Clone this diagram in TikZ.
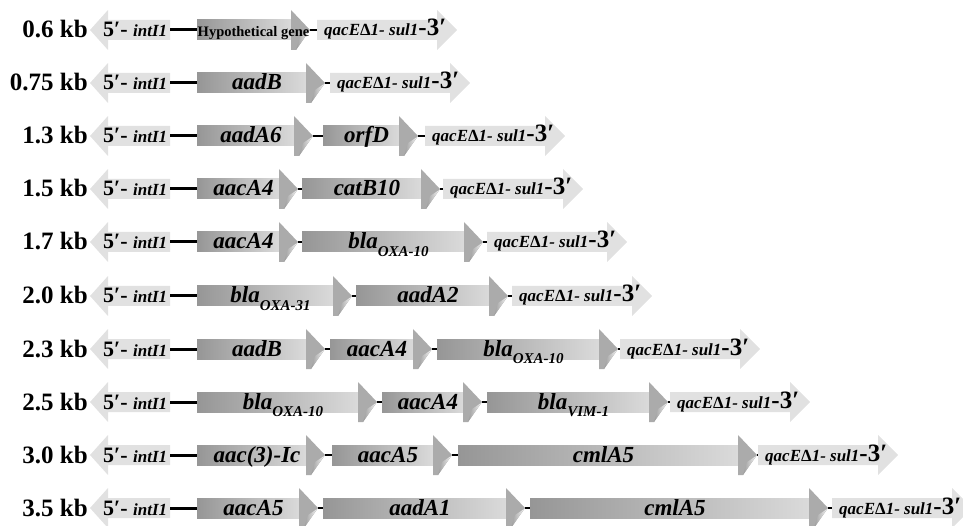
\documentclass[tikz,border=0pt]{standalone}
\usepackage{fontspec}
\setmainfont{Liberation Serif}
\definecolor{gA}{HTML}{969696}
\definecolor{gB}{HTML}{DADADA}
\definecolor{gH}{HTML}{ABABAB}
\definecolor{gC}{HTML}{9C9C9C}
\definecolor{gD}{HTML}{F2F2F2}
\definecolor{flankc}{HTML}{E1E1E1}
\def\bh{10}
\def\hh{20}
\def\hl{19}
\tikzset{
  flank/.style={fill=flankc},
  rowlabel/.style={font=\fontsize{25}{28}\selectfont\bfseries, anchor=base east, inner sep=0},
  genelabel/.style={font=\fontsize{23}{26}\selectfont\bfseries\itshape, anchor=base, inner sep=0},
  smalllabel/.style={font=\fontsize{14.5}{17}\selectfont\bfseries, anchor=base, inner sep=0, xshift=4pt},
  flanklabel/.style={font=\bfseries, anchor=base west, inner sep=0},
  mainline/.style={line width=3pt},
  linker/.style={line width=2.5pt},
}
\newcommand\leftflank[2]{%
  \path[flank] (90,#2) -- (108,{#2-\hh}) -- (108,{#2-\bh}) -- (170,{#2-\bh}) -- (170,{#2+\bh}) -- (108,{#2+\bh}) -- (108,{#2+\hh}) -- cycle;
  \node[flanklabel] (int#1) at (103,{#2+7}) {\fontsize{22}{24}\selectfont 5′-\ \fontsize{17}{18}\selectfont\itshape intI1};
  \coordinate (ls#1) at (170,#2);
}
\newcommand\gene[6]{% #1 name, #2 x1, #3 x2, #4 y, #5 style, #6 label
  \path[left color=gA,right color=gB] (#2,{#4-\bh}) rectangle ({#3-\hl},{#4+\bh});
  \path[fill=gH] ({#3-\hl},{#4-\hh}) -- (#3,#4) -- ({#3-\hl+5},{#4+\hh}) -- ({#3-\hl},{#4+\hh}) -- cycle;
  \path[left color=gC,right color=gD] ({#3-1},{#4+1}) -- ({#3-\hl+5},{#4+\hh}) -- ({#3-\hl+9},{#4+7}) -- cycle;
  \node[#5] (#1) at ({(#2+#3)/2-4},{#4+7}) {#6};
  \coordinate (#1s) at (#2,#4);
  \coordinate (#1e) at (#3,#4);
}
\newcommand\qac[3]{%
  \path[flank] (#2,{#3-\bh}) -- ({#2+120},{#3-\bh}) -- ({#2+120},{#3-\hh}) -- ({#2+140},#3) -- ({#2+120},{#3+\hh}) -- ({#2+120},{#3+\bh}) -- (#2,{#3+\bh}) -- cycle;
  \node[flanklabel] (#1) at ({#2+7},{#3+6}) {\fontsize{17}{18}\selectfont\itshape qacE\upshape Δ\itshape 1- sul1\upshape\fontsize{25}{26}\selectfont -3′};
  \coordinate (#1s) at (#2,#3);
}
\newcommand\bla[1]{\textit{bla}\raisebox{-0.33em}{\fontsize{15}{17}\selectfont\textit{#1}}}
\begin{document}
\begin{tikzpicture}[x=1pt,y=-1pt]
\useasboundingbox (0,0) rectangle (963,526);
\clip (0,0) rectangle (963,526);
% row 1
\node[rowlabel] (k1) at (88,38) {0.6 kb};
\leftflank{1}{30}
\gene{g11}{197}{310}{30}{smalllabel}{Hypothetical gene}
\qac{q1}{317}{30}
\draw[mainline] (ls1) -- (g11s);
\draw[linker] (g11e) -- (q1s);
% row 2
\node[rowlabel] (k2) at (88,91) {0.75 kb};
\leftflank{2}{83}
\gene{g21}{197}{325}{83}{genelabel}{aadB}
\qac{q2}{330}{83}
\draw[mainline] (ls2) -- (g21s);
\draw[linker] (g21e) -- (q2s);
% row 3
\node[rowlabel] (k3) at (88,144) {1.3 kb};
\leftflank{3}{136}
\gene{g31}{197}{313}{136}{genelabel}{aadA6}
\gene{g32}{323}{418}{136}{genelabel}{orfD}
\qac{q3}{425}{136}
\draw[mainline] (ls3) -- (g31s);
\draw[linker] (g31e) -- (g32s);
\draw[linker] (g32e) -- (q3s);
% row 4
\node[rowlabel] (k4) at (88,197) {1.5 kb};
\leftflank{4}{189}
\gene{g41}{197}{298}{189}{genelabel}{aacA4}
\gene{g42}{302}{440}{189}{genelabel}{catB10}
\qac{q4}{443}{189}
\draw[mainline] (ls4) -- (g41s);
\draw[linker] (g41e) -- (g42s);
\draw[linker] (g42e) -- (q4s);
% row 5
\node[rowlabel] (k5) at (88,250) {1.7 kb};
\leftflank{5}{242}
\gene{g51}{197}{298}{242}{genelabel}{aacA4}
\gene{g52}{302}{483}{242}{genelabel}{\bla{OXA-10}}
\qac{q5}{487}{242}
\draw[mainline] (ls5) -- (g51s);
\draw[linker] (g51e) -- (g52s);
\draw[linker] (g52e) -- (q5s);
% row 6
\node[rowlabel] (k6) at (88,304) {2.0 kb};
\leftflank{6}{296}
\gene{g61}{197}{352}{296}{genelabel}{\bla{OXA-31}}
\gene{g62}{356}{508}{296}{genelabel}{aadA2}
\qac{q6}{512}{296}
\draw[mainline] (ls6) -- (g61s);
\draw[linker] (g61e) -- (g62s);
\draw[linker] (g62e) -- (q6s);
% row 7
\node[rowlabel] (k7) at (88,357) {2.3 kb};
\leftflank{7}{349}
\gene{g71}{197}{325}{349}{genelabel}{aadB}
\gene{g72}{330}{432}{349}{genelabel}{aacA4}
\gene{g73}{437}{618}{349}{genelabel}{\bla{OXA-10}}
\qac{q7}{620}{349}
\draw[mainline] (ls7) -- (g71s);
\draw[linker] (g71e) -- (g72s);
\draw[linker] (g72e) -- (g73s);
\draw[linker] (g73e) -- (q7s);
% row 8
\node[rowlabel] (k8) at (88,410) {2.5 kb};
\leftflank{8}{402}
\gene{g81}{197}{377}{402}{genelabel}{\bla{OXA-10}}
\gene{g82}{382}{482}{402}{genelabel}{aacA4}
\gene{g83}{487}{668}{402}{genelabel}{\bla{VIM-1}}
\qac{q8}{670}{402}
\draw[mainline] (ls8) -- (g81s);
\draw[linker] (g81e) -- (g82s);
\draw[linker] (g82e) -- (g83s);
\draw[linker] (g83e) -- (q8s);
% row 9
\node[rowlabel] (k9) at (88,463) {3.0 kb};
\leftflank{9}{455}
\gene{g91}{197}{325}{455}{genelabel}{aac(3)-Ic}
\gene{g92}{332}{452}{455}{genelabel}{aacA5}
\gene{g93}{458}{757}{455}{genelabel}{cmlA5}
\qac{q9}{758}{455}
\draw[mainline] (ls9) -- (g91s);
\draw[linker] (g91e) -- (g92s);
\draw[linker] (g92e) -- (g93s);
\draw[linker] (g93e) -- (q9s);
% row 10
\node[rowlabel] (k10) at (88,516) {3.5 kb};
\leftflank{10}{508}
\gene{g101}{197}{318}{508}{genelabel}{aacA5}
\gene{g102}{323}{525}{508}{genelabel}{aadA1}
\gene{g103}{530}{828}{508}{genelabel}{cmlA5}
\qac{q10}{832}{508}
\draw[mainline] (ls10) -- (g101s);
\draw[linker] (g101e) -- (g102s);
\draw[linker] (g102e) -- (g103s);
\draw[linker] (g103e) -- (q10s);
\end{tikzpicture}
\end{document}
